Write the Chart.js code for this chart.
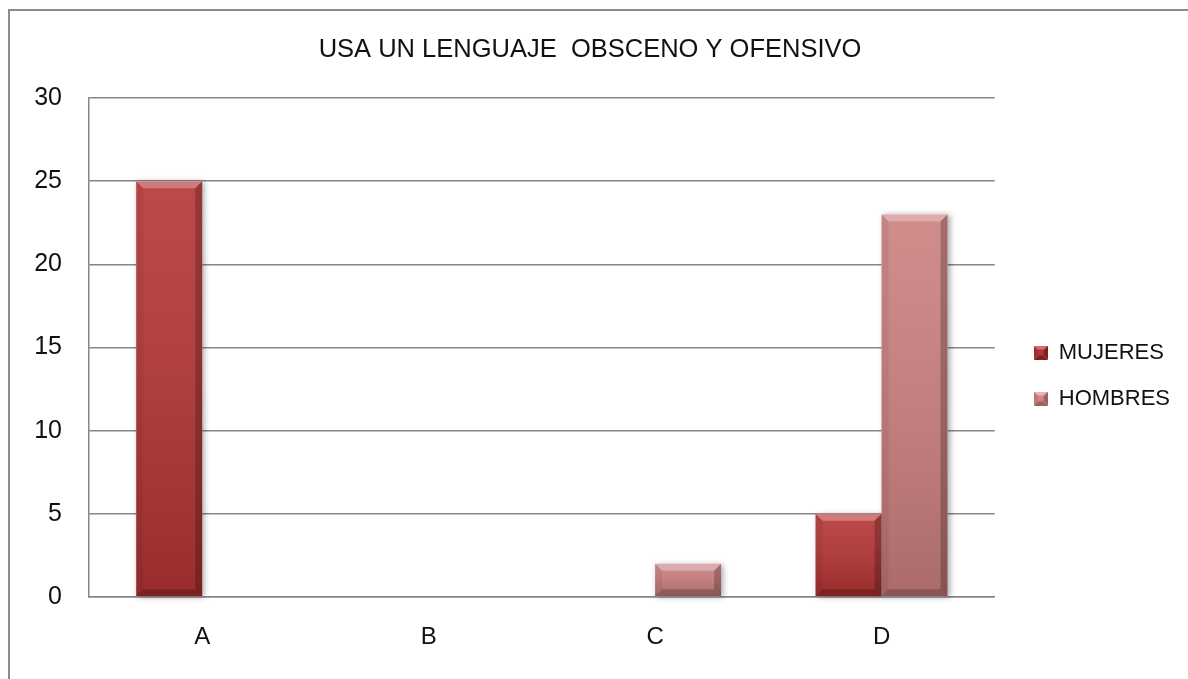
<!DOCTYPE html>
<html lang="es">
<head>
<meta charset="utf-8">
<title>USA UN LENGUAJE OBSCENO Y OFENSIVO</title>
<script src="https://cdn.jsdelivr.net/npm/chart.js@4"></script>
<style>
    html, body { margin: 0; padding: 0; background: #fff; overflow: hidden; }
    .frame {
        position: absolute;
        left: 8px;
        top: 9px;
        width: 1300px;
        height: 800px;
        border-top: 2px solid #8c8c8c;
        border-left: 2px solid #8c8c8c;
    }
    .wrap { position: absolute; left: 0; top: 0; width: 1188px; height: 679px; }
</style>
</head>
<body>
<div class="frame"></div>
<div class="wrap"><canvas id="grafico" width="1188" height="679"></canvas></div>
<script>
// Datos
const categorias = ['A', 'B', 'C', 'D'];
const mujeres = [25, 0, 0, 5];
const hombres = [0, 0, 2, 23];
const series = ['MUJERES', 'HOMBRES'];
const yTicks = [0, 5, 10, 15, 20, 25, 30];

const FONT = "'Liberation Sans', Arial, sans-serif";
const colorMujeres = '#b63434';
const colorHombres = '#cc7f7f';

// Small pyramid-shaded squares for the legend
function makeIcon(base, light, dark, side) {
    const c = document.createElement('canvas');
    c.width = 14; c.height = 14;
    const g = c.getContext('2d');
    const s = 14, m = 7;
    const tri = (pts, col) => {
        g.beginPath();
        g.moveTo(pts[0], pts[1]);
        g.lineTo(pts[2], pts[3]);
        g.lineTo(pts[4], pts[5]);
        g.closePath();
        g.fillStyle = col;
        g.fill();
    };
    tri([0, 0, s, 0, m, m], light);
    tri([0, 0, 0, s, m, m], side);
    tri([s, 0, s, s, m, m], dark);
    tri([0, s, s, s, m, m], dark);
    g.fillStyle = base;
    g.fillRect(4, 4, 6, 6);
    return c;
}
const iconos = [
    makeIcon('#b53333', '#de6a6a', '#7e2020', '#a02c2c'),
    makeIcon('#cf8383', '#eeb3b3', '#9c6262', '#bd7676')
];

// Bevel + shading on each bar
const bevelPlugin = {
    id: 'bevel',
    beforeDatasetsDraw(chart) {
        const ctx = chart.ctx;
        ctx.save();
        chart.data.datasets.forEach((ds, i) => {
            chart.getDatasetMeta(i).data.forEach(el => {
                const p = el.getProps(['x', 'y', 'base', 'width'], true);
                const h = p.base - p.y;
                if (h <= 0.5) return;
                ctx.shadowColor = 'rgba(0,0,0,0.35)';
                ctx.shadowBlur = 6;
                ctx.shadowOffsetX = 2;
                ctx.shadowOffsetY = 1;
                ctx.fillStyle = '#ffffff';
                ctx.fillRect(p.x - p.width / 2, p.y, p.width, h);
            });
        });
        ctx.restore();
    },
    afterDatasetsDraw(chart) {
        const ctx = chart.ctx;
        ctx.save();
        chart.data.datasets.forEach((ds, i) => {
            chart.getDatasetMeta(i).data.forEach(el => {
                const p = el.getProps(['x', 'y', 'base', 'width'], true);
                const l = p.x - p.width / 2, r = p.x + p.width / 2;
                const t = p.y, b = p.base;
                const h = b - t;
                if (h <= 0.5) return;
                const grad = ctx.createLinearGradient(0, t, 0, b);
                grad.addColorStop(0, 'rgba(255,255,255,0.10)');
                grad.addColorStop(1, 'rgba(0,0,0,0.16)');
                ctx.fillStyle = grad;
                ctx.fillRect(l, t, p.width, h);

                const e = Math.min(7, h / 2, p.width / 2);
                const poly = (pts, col) => {
                    ctx.beginPath();
                    ctx.moveTo(pts[0], pts[1]);
                    for (let k = 2; k < pts.length; k += 2) ctx.lineTo(pts[k], pts[k + 1]);
                    ctx.closePath();
                    ctx.fillStyle = col;
                    ctx.fill();
                };
                poly([l, t, r, t, r - e, t + e, l + e, t + e], 'rgba(255,255,255,0.28)');
                poly([l, t, l + e, t + e, l + e, b - e, l, b], 'rgba(0,0,0,0.06)');
                poly([r, t, r, b, r - e, b - e, r - e, t + e], 'rgba(0,0,0,0.22)');
                poly([l, b, l + e, b - e, r - e, b - e, r, b], 'rgba(0,0,0,0.20)');
            });
        });
        ctx.restore();
    }
};

new Chart(document.getElementById('grafico'), {
    type: 'bar',
    data: {
        labels: categorias,
        datasets: [
            { label: series[0], data: mujeres, backgroundColor: colorMujeres },
            { label: series[1], data: hombres, backgroundColor: colorHombres }
        ]
    },
    options: {
        responsive: false,
        animation: false,
        datasets: {
            bar: { categoryPercentage: 0.583, barPercentage: 1.0, borderWidth: 0 }
        },
        layout: { padding: { left: 0, right: 8, top: 0, bottom: 0 } },
        plugins: {
            title: {
                display: true,
                text: 'USA UN LENGUAJE  OBSCENO Y OFENSIVO',
                color: '#111',
                font: { family: FONT, size: 25.5, weight: 'normal' },
                padding: { top: 35, bottom: 32.4 }
            },
            legend: {
                position: 'right',
                title: { display: true, text: ' ', font: { size: 12 }, padding: { top: 57.6, bottom: 0 } },
                labels: {
                    color: '#111',
                    font: { family: FONT, size: 22 },
                    usePointStyle: true,
                    boxWidth: 14,
                    boxHeight: 14,
                    padding: 24,
                    generateLabels(chart) {
                        const items = Chart.defaults.plugins.legend.labels.generateLabels(chart);
                        items.forEach((it, i) => { it.pointStyle = iconos[i]; });
                        return items;
                    }
                }
            },
            tooltip: { enabled: false }
        },
        scales: {
            x: {
                grid: { display: false, drawTicks: false },
                border: { display: true, color: '#868686', width: 1.5 },
                ticks: { color: '#111', font: { family: FONT, size: 24 }, padding: 25.6 },
                afterFit(scale) { scale.height = 82; }
            },
            y: {
                min: 0,
                max: 30,
                afterBuildTicks(scale) {
                    scale.ticks = yTicks.map(v => ({ value: v }));
                },
                grid: { color: '#868686', lineWidth: 1.5, drawTicks: false },
                border: { display: true, color: '#868686', width: 1.5 },
                ticks: { color: '#111', font: { family: FONT, size: 25 }, padding: 27 },
                afterFit(scale) { scale.width = 89; }
            },
            spacer: {
                position: 'right',
                min: 0,
                max: 30,
                grid: { display: false, drawTicks: false },
                border: { display: false },
                ticks: { display: false },
                afterFit(scale) { scale.width = 15; }
            }
        }
    },
    plugins: [bevelPlugin]
});
</script>
</body>
</html>
